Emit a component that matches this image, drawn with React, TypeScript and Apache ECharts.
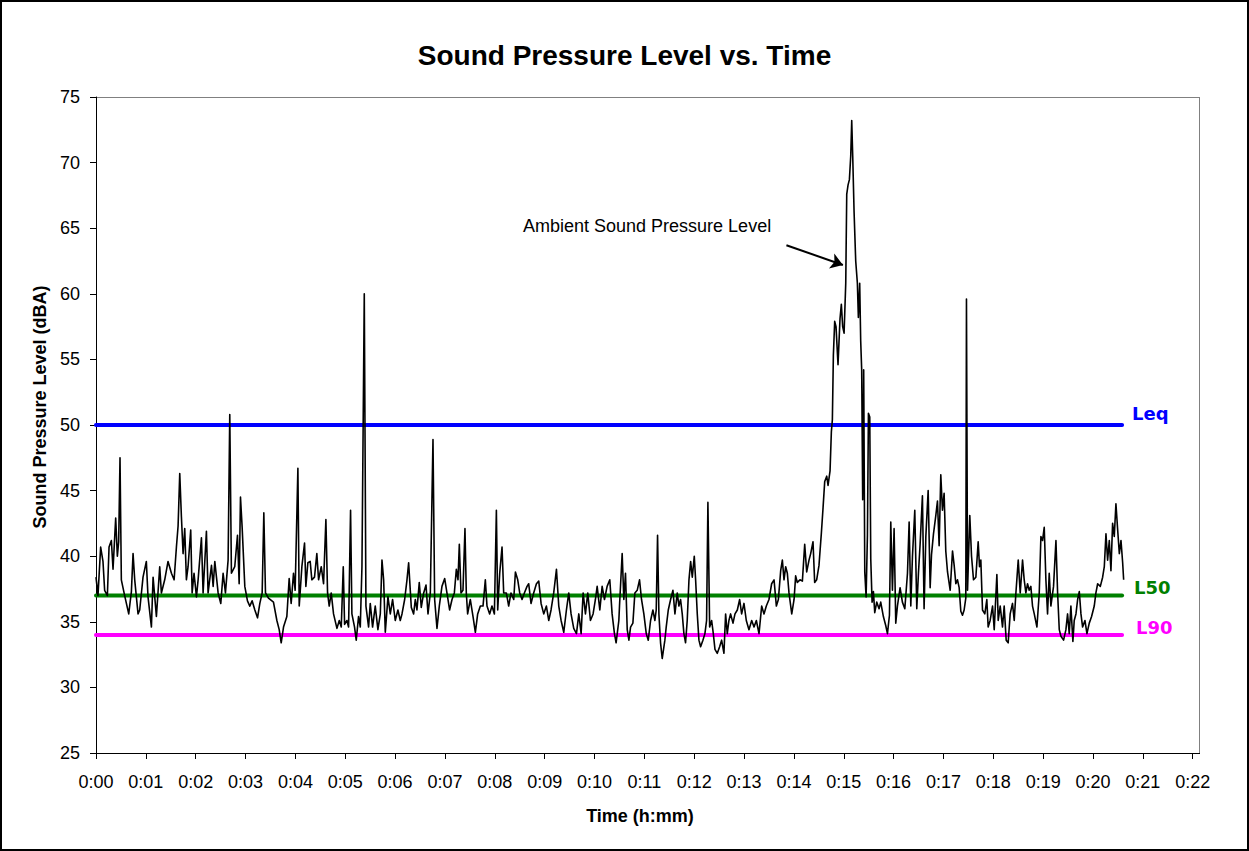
import React, { useEffect, useRef } from "react";
import * as echarts from "echarts";

// Elapsed time (seconds) and sound pressure level (dBA)
const timeSec = [
  0, 2.4, 5.6, 8.4, 10.4, 13.7, 15.7, 18.5, 20.5, 23.7, 25.7, 27.3, 28.9, 30.5, 34.5, 39.4, 42.6, 44.6, 46.6, 50.6,
  52.6, 56.6, 60.6, 62.6, 66.7, 68.7, 72.7, 76.7, 78.7, 82.7, 86.7, 90.8, 94, 96.8, 98.8, 100.8, 102.8, 104.8, 106.8, 108.8,
  110.8, 114, 115.7, 118, 120.9, 122.9, 126.9, 128.9, 132.9, 134.9, 139, 141, 143, 147, 150.2, 153, 155.8, 159, 161, 163,
  167, 170.3, 172.3, 173.9, 175.9, 179.1, 182.3, 185.1, 187.9, 191.2, 194.4, 197.2, 200, 202, 204,
  207.6, 213.6, 217.7, 220.5, 222.9, 225.7, 229.7, 232.5, 234.9, 237.7, 239.7, 243, 244.6, 247.8, 251, 252.6, 255, 257.8, 259.8, 263,
  265.8, 267.9, 271.1, 273.9, 276.7, 278.7, 280.7, 283.1, 285.9, 290, 292.8, 295.2, 297.6, 299.2, 302, 304, 306.4, 308, 311.2, 313.2,
  316, 318.1, 320.1, 322.9, 324.9, 328.1, 330.1, 332.9, 336.1, 339.3, 342.2, 344.2, 346.2, 348.2, 351.4, 354.2, 357, 360.2, 363.4, 366.2,
  368.3, 371.5, 374.3, 376.3, 379.5, 382.3, 384.3, 386.3, 389.1, 391.5, 394.4, 397.2, 399.6, 402.4, 405.6, 407.6, 410.4, 413.2, 416.4, 419.7,
  422.4, 425.6, 428.5, 431.3, 433.7, 435.7, 437.3, 439.3, 441.7, 444.1, 445.7, 447.3, 450.5, 453.8, 456.6, 459.4, 462.6, 465.8, 468.6, 470.6,
  473.8, 476.6, 479.5, 481.9, 483.5, 485.9, 488.7, 490.7, 493.9, 496.7, 499.5, 502.8, 504.8, 507.6, 510, 512.8, 515.6, 518.8, 520.8, 523.6,
  526.8, 530.1, 532.9, 535.7, 538.9, 542.1, 544.9, 547.7, 550.9, 554.2, 557, 559.8, 563, 566.2, 569, 571.8, 575, 578.3, 581.1, 583.9,
  586.3, 589.1, 591.9, 595.1, 598.3, 601.1, 603.2, 606.4, 609.2, 612, 615.2, 618.4, 621.2, 624, 626, 629.3,
  630.1, 633.3, 635.3, 637.3, 639.4, 641.4, 643.4, 646.2, 648.6, 651.4, 654.2, 656.6, 659.4, 662.3, 664.7, 667.5, 670.3, 672.7, 674.3, 675.9,
  677.5, 679.5, 681.5, 684.7, 686.3, 688.8, 691.6, 694.4, 696.8, 699.6, 701.6, 703.6, 705.6, 707.6, 709.6, 711.6, 713.7, 715.7, 717.7, 720.1,
  721.7, 723.7, 725.7, 727.7, 730.5, 732.9, 734.9, 736.5, 738.6, 741, 743, 745, 747.8, 750.6, 753, 755.8, 757.8, 759.8, 761.8, 763.8,
  766.7, 769.1, 771.9, 774.7, 777.1, 779.9, 782.7, 785.9, 789.2, 792, 794.8, 798, 801.2, 804, 806.8, 810, 813.2, 816.1, 818.9, 821.3,
  824.1, 826.1, 828.1, 830.1, 832.1, 834.1, 837.4, 840.2,
  842.1, 844.1, 847.3, 850.2, 853, 855.4, 858.2, 860.2, 863, 865, 867.4, 870.2, 873.1, 875.1, 877.1, 879.5, 881.1, 883.5, 885.1, 886.3,
  887.5, 889.1, 890.7, 893.1, 895.5, 897.1, 898.7, 900.4, 902.4, 903.6, 905.2, 906.8, 908.4, 909.6, 910.8, 912.4, 914.4, 916.4, 917.6, 919.2,
  920.4, 921.6, 922.8, 924, 925.3, 926.9, 928.5, 929.7, 931.3, 932.5, 934.1, 935.7, 937.3, 939.7, 942.5, 944.5, 947.7, 950.6, 952.6, 955,
  956.6, 958.6, 960.6, 962.6, 964.6, 967.8, 970.6, 973.5, 976.7, 978.7, 980.7, 982.7, 985.5, 987.9, 989.9, 991.9, 994.7, 996.7, 998.8, 1001.6,
  1004, 1005.6, 1008, 1010.8, 1012.8, 1014.8, 1016.8, 1018.8, 1020.8, 1022.8, 1024.9, 1028.1, 1030.9, 1032.9, 1034.9, 1036.9, 1038.9, 1040.9, 1042.9, 1044.9,
  1046.9, 1047.7, 1049,
  1051.7, 1053.8, 1056.2, 1059, 1061.8, 1063.4, 1065, 1067, 1069.8, 1072.2, 1073.8, 1076.2, 1079.1, 1081.1, 1084.3, 1085.9, 1088.3, 1091.1, 1093.1, 1095.5,
  1097.9, 1100.3, 1103.1, 1105.2, 1107.2, 1110, 1112.4, 1115.2, 1117.2, 1119.2, 1121.2, 1123.2, 1125.2, 1127.2, 1129.3, 1132.5, 1135.3, 1137.3, 1139.3, 1141.3,
  1143.3, 1145.3, 1147.3, 1149.3, 1152.5, 1155.4, 1157.4, 1159.4, 1161.4, 1164.6, 1167.4, 1169.4, 1171.4, 1173.4, 1175.8, 1177.4, 1179.5, 1181.5, 1183.5, 1185.5,
  1187.5, 1190.3, 1192.7, 1195.5, 1198.3, 1201.5, 1203.5, 1205.6, 1208.8, 1211.6, 1213.6, 1215.6, 1217.6, 1219.6, 1221.6, 1223.6, 1225.6, 1227.6, 1229.7, 1231.7,
  1233.7, 1235.7, 1236.9,
];

const splDbA = [
  38.4, 37.0, 40.7, 39.6, 37.4, 37.0, 40.7, 41.2, 39.0, 42.9, 40.0, 41.1, 47.5, 38.2, 37.0, 35.6, 37.3, 40.2, 38.2, 35.6,
  35.9, 38.4, 39.6, 36.9, 34.6, 38.4, 35.4, 39.2, 37.2, 38.2, 39.6, 38.7, 38.2, 40.7, 42.3, 46.3, 43.0, 40.2, 42.1, 38.2,
  39.2, 42.0, 37.2, 38.7, 36.9, 38.2, 41.4, 37.2, 41.9, 37.2, 39.3, 37.7, 39.6, 37.2, 36.4, 38.7, 37.2, 39.7, 50.8, 38.7,
  39.2, 41.6, 37.9, 44.5, 42.2, 37.7, 36.6, 36.2, 36.6, 35.9, 35.3, 36.4, 37.2, 43.3, 37.2,
  36.8, 36.5, 35.1, 34.4, 33.4, 34.6, 35.4, 38.3, 36.4, 38.7, 37.4, 46.7, 36.2, 39.2, 41.0, 37.7, 39.5, 39.6, 38.2, 38.4,
  40.2, 38.2, 39.2, 37.9, 42.8, 37.2, 36.2, 37.2, 35.6, 34.5, 35.1, 34.6, 39.2, 34.8, 35.1, 34.6, 43.5, 35.6, 34.6, 33.6,
  35.4, 34.6, 39.2, 60.0, 36.2, 34.6, 36.4, 34.6, 36.2, 34.4, 35.6, 39.7, 38.2, 34.2, 36.9, 35.6, 36.7, 35.1, 35.9, 35.1,
  35.6, 36.7, 38.2, 39.5, 36.1, 35.6, 36.7, 35.9, 38.0, 36.1, 37.2, 37.8, 35.6, 37.2, 48.9, 36.7, 34.5, 36.2, 37.7, 38.3,
  37.2, 35.9, 36.7, 37.2, 39.0, 38.2, 40.9, 37.2, 37.4, 42.1, 37.2, 35.6, 36.7, 35.4, 34.2, 35.6, 36.2, 36.2, 38.2, 36.2,
  35.6, 36.2, 35.6, 43.5, 35.9, 38.7, 40.7, 37.2, 37.2, 36.2, 37.2, 36.7, 38.8, 38.2, 37.2, 36.7, 37.2, 37.7, 37.9, 36.4,
  37.2, 37.9, 38.1, 36.4, 35.6, 36.2, 35.1, 35.9, 37.2, 39.0, 36.2, 35.1, 34.2, 35.9, 37.2, 35.6, 34.5, 34.1, 35.6, 34.1,
  37.2, 35.6, 37.2, 35.1, 35.6, 36.7, 37.7, 35.9, 37.7, 36.7, 37.7, 38.2, 35.6, 34.1, 33.4, 35.1,
  36.2, 40.2, 36.7, 38.7, 34.4, 33.6, 34.6, 34.9, 37.2, 37.4, 38.2, 36.7, 35.6, 34.1, 33.6, 35.1, 35.9, 35.1, 35.9, 41.6,
  35.6, 33.4, 32.2, 33.6, 34.6, 35.9, 36.7, 37.4, 35.6, 37.2, 36.2, 36.7, 35.6, 34.1, 33.4, 35.1, 38.2, 39.6, 38.4, 40.0,
  38.2, 35.6, 33.6, 33.1, 33.6, 34.1, 35.1, 44.1, 34.6, 35.1, 34.1, 32.9, 32.6, 33.1, 33.6, 32.6, 35.6, 34.1, 35.1, 35.6,
  34.9, 35.6, 35.9, 36.7, 35.6, 36.4, 35.1, 34.4, 35.1, 34.6, 35.1, 34.1, 36.2, 35.6, 36.2, 36.7, 37.9, 38.2, 36.2, 36.7,
  38.9, 39.7, 38.2, 39.2, 38.7, 37.2, 35.6, 36.7,
  38.5, 38.0, 38.2, 38.1, 40.9, 38.8, 39.7, 40.2, 41.1, 38.0, 38.2, 39.3, 41.8, 43.7, 45.7, 46.1, 45.4, 46.5, 49.5, 50.4,
  55.3, 57.9, 57.5, 54.6, 58.1, 59.2, 57.5, 57.0, 60.8, 67.6, 68.3, 68.7, 70.5, 73.2, 70.5, 66.3, 62.5, 60.8, 58.2, 60.8,
  56.4, 54.2, 44.3, 54.2, 38.8, 36.9, 41.6, 50.9, 50.6, 39.8, 36.5, 37.3, 35.7, 36.5, 36.0, 36.5, 35.4, 34.7, 34.1, 35.5,
  42.6, 37.4, 42.1, 34.9, 36.2, 37.6, 36.5, 36.0, 38.7, 42.6, 36.2, 40.0, 43.5, 36.0, 38.7, 40.9, 44.6, 36.0, 41.5, 45.0,
  37.6, 40.1, 41.7, 43.1, 44.2, 40.8, 46.2, 43.5, 44.8, 40.4, 38.8, 37.4, 40.4, 39.3, 37.9, 38.2, 37.6, 35.8, 35.5, 35.9,
  36.8, 59.6, 37.4,
  43.1, 40.0, 38.2, 38.4, 41.1, 39.2, 39.7, 35.9, 35.6, 36.7, 34.6, 35.1, 36.2, 34.4, 38.6, 35.1, 36.2, 34.6, 36.2, 33.6,
  33.4, 35.6, 36.4, 35.1, 37.2, 39.7, 37.2, 39.7, 38.2, 37.2, 37.9, 37.4, 37.7, 36.2, 35.6, 34.6, 37.2, 41.5, 41.2, 42.2,
  38.2, 35.6, 38.7, 36.2, 37.7, 41.2, 37.2, 34.4, 33.9, 33.6, 34.4, 35.6, 34.1, 36.2, 33.5, 35.1, 35.6, 36.7, 37.3, 35.6,
  34.6, 35.1, 34.1, 34.9, 35.4, 36.2, 37.2, 37.9, 37.7, 38.4, 39.2, 41.7, 39.7, 41.2, 38.9, 42.5, 41.5, 44.0, 42.0, 40.2,
  41.2, 39.5, 38.2,
];

// Statistical levels (dBA)
const statNames = ["Leq", "L50", "L90"];
const statLevels = [50, 37, 34];
const statColors = ["#0000FF", "#008000", "#FF00FF"];
const statSpan = [0, 1235]; // seconds covered by the reference lines

// Axis ranges
const xMinSec = 0;
const xMaxSec = 1320;
const xStepSec = 60;
const yMin = 25;
const yMax = 75;
const yStep = 5;

// Annotation
const annotationText = "Ambient Sound Pressure Level";
const arrowFrom = [831, 63.7];
const arrowTo = [899, 62.2];

const SANS = '"Liberation Sans", Arial, sans-serif';

function fmtTime(v: number) {
  const m = Math.round(v / 60);
  return `${Math.floor(m / 60)}:${String(m % 60).padStart(2, "0")}`;
}

export default function App() {
  const ref = useRef<HTMLDivElement>(null);

  useEffect(() => {
    document.body.style.margin = "0";
    if (!ref.current) return;
    const chart = echarts.init(ref.current, null, { renderer: "svg" });

    const mainData = timeSec.map((t, i) => [t, splDbA[i]]);
    const labelOffsets = [
      [2, -12],
      [4, -8],
      [6, -7],
    ];

    const statSeries = statNames.map((name, i) => ({
      name,
      type: "line",
      data: statSpan.map((t) => [t, statLevels[i]]),
      showSymbol: false,
      symbol: "none",
      silent: true,
      z: 2,
      lineStyle: { color: statColors[i], width: 4, cap: "round" },
      endLabel: {
        show: true,
        formatter: name,
        color: statColors[i],
        fontFamily: '"DejaVu Sans", Verdana, sans-serif',
        fontWeight: "bold",
        fontSize: 18,
        offset: labelOffsets[i],
      },
    }));

    const option: any = {
      animation: false,
      backgroundColor: "#ffffff",
      title: {
        text: "Sound Pressure Level vs. Time",
        left: "center",
        top: 36,
        textStyle: { fontFamily: SANS, fontSize: 28, fontWeight: "bold", color: "#000" },
      },
      grid: { left: 96, top: 97, width: 1096.7, height: 656, containLabel: false },
      xAxis: {
        type: "value",
        min: xMinSec,
        max: xMaxSec,
        interval: xStepSec,
        axisLine: { show: true, lineStyle: { color: "#000", width: 1 } },
        axisTick: { show: true, length: 6, lineStyle: { color: "#000" } },
        splitLine: { show: false },
        axisLabel: {
          formatter: fmtTime,
          color: "#000",
          fontFamily: SANS,
          fontSize: 18,
          margin: 20,
        },
      },
      yAxis: {
        type: "value",
        min: yMin,
        max: yMax,
        interval: yStep,
        axisLine: { show: true, lineStyle: { color: "#000", width: 1 } },
        axisTick: { show: true, length: 6, lineStyle: { color: "#000" } },
        splitLine: { show: false },
        axisLabel: { color: "#000", fontFamily: SANS, fontSize: 18, margin: 16 },
      },
      series: [
        ...statSeries,
        {
          name: "SPL",
          type: "line",
          data: mainData,
          showSymbol: false,
          symbol: "none",
          z: 3,
          lineStyle: { color: "#000", width: 1.6, join: "round" },
          markLine: {
            silent: true,
            symbol: ["none", "arrow"],
            symbolSize: 12,
            label: { show: false },
            lineStyle: { color: "#000", width: 2, type: "solid" },
            itemStyle: { color: "#000" },
            data: [[{ coord: arrowFrom }, { coord: arrowTo }]],
          },
        },
      ],
      graphic: [
        {
          type: "rect",
          shape: { x: 1, y: 1, width: 1247, height: 849 },
          style: { fill: "none", stroke: "#000", lineWidth: 2 },
          silent: true,
        },
        {
          type: "line",
          shape: { x1: 96, y1: 97.5, x2: 1200, y2: 97.5 },
          style: { stroke: "#808080", lineWidth: 1 },
          silent: true,
        },
        {
          type: "line",
          shape: { x1: 1199.5, y1: 97, x2: 1199.5, y2: 753 },
          style: { stroke: "#808080", lineWidth: 1 },
          silent: true,
        },
        {
          type: "line",
          shape: { x1: 1192, y1: 753.5, x2: 1200, y2: 753.5 },
          style: { stroke: "#000", lineWidth: 1 },
          silent: true,
        },
        {
          type: "text",
          x: 523,
          y: 226,
          style: {
            text: annotationText,
            fill: "#000",
            fontFamily: SANS,
            fontSize: 18,
            align: "left",
            verticalAlign: "middle",
          },
        },
        {
          type: "text",
          x: 40,
          y: 407,
          rotation: Math.PI / 2,
          style: {
            text: "Sound Pressure Level (dBA)",
            fill: "#000",
            fontFamily: SANS,
            fontSize: 18,
            fontWeight: "bold",
            align: "center",
            verticalAlign: "middle",
          },
        },
        {
          type: "text",
          x: 640,
          y: 816,
          style: {
            text: "Time (h:mm)",
            fill: "#000",
            fontFamily: SANS,
            fontSize: 18,
            fontWeight: "bold",
            align: "center",
            verticalAlign: "middle",
          },
        },
      ],
    };

    chart.setOption(option);
    return () => chart.dispose();
  }, []);

  return <div ref={ref} style={{ width: 1249, height: 851 }} />;
}
